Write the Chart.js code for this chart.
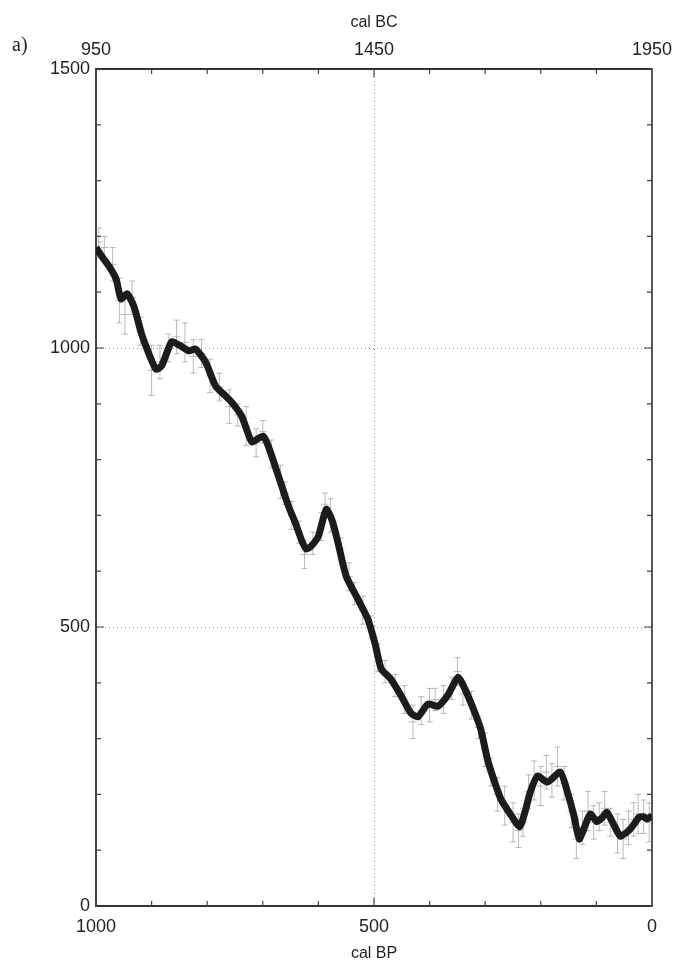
<!DOCTYPE html>
<html>
<head>
<meta charset="utf-8">
<script src="https://cdn.jsdelivr.net/npm/chart.js@4.4.1/dist/chart.umd.min.js"></script>
<style>
  body { margin: 0; background: #fff; }
  #wrap { position: relative; width: 674px; height: 964px; }
  #panel { position: absolute; left: 12px; top: 33px; font: 20px 'Liberation Serif', serif; color: #222; }
</style>
</head>
<body>
<div id="wrap">
  <canvas id="chart"></canvas>
  <div id="panel">a)</div>
</div>
<script>
// calibration curve (cal BP -> 14C age BP)
const curveBP  = [1000,990,977,964,955,944,932,918,905,892,882,864,850,833,821,803,785,767,756,738,720,708,699,690,672,654,642,630,622,613,600,586,575,565,550,529,511,498,487,470,452,434,421,403,385,367,349,337,320,308,296,284,272,255,238,228,219,206,188,165,152,140,131,120,111,99,90,81,70,57,48,39,30,23,15,9,0];
const curveAge = [1180,1165,1147,1124,1088,1097,1075,1025,990,962,968,1011,1005,995,998,975,932,914,903,878,832,838,842,824,771,717,688,655,640,645,663,711,690,652,591,550,514,470,425,407,378,346,339,362,358,378,410,390,350,317,263,225,192,165,142,170,204,233,222,240,204,160,120,145,165,151,158,168,148,125,130,138,150,159,160,156,162];

// individual measurements with 1-sigma errors
const measBP  = [995,985,970,958,948,935,920,900,885,870,855,840,825,810,795,778,760,745,730,712,700,685,668,660,648,635,625,610,595,588,578,560,545,535,520,505,493,480,462,445,430,415,400,390,375,360,350,340,325,312,300,290,278,265,250,240,232,222,212,200,190,180,170,158,145,136,125,115,105,95,85,75,62,52,42,33,25,15,5];
const measAge = [1190,1180,1150,1085,1060,1090,1030,960,975,1000,1020,1010,985,990,950,930,895,880,860,830,850,810,760,740,700,670,630,650,680,720,700,640,590,560,530,500,445,420,395,370,330,350,360,370,370,390,420,380,360,320,280,240,200,180,150,135,150,205,225,215,240,225,250,220,170,120,140,170,150,160,175,150,130,120,140,155,165,160,150];
const measErr = [25,20,30,40,35,30,25,45,30,25,30,35,30,25,30,25,30,20,35,25,20,25,30,20,25,20,25,20,25,20,30,20,25,20,25,20,25,20,20,25,30,25,30,20,25,20,25,20,25,20,30,25,30,35,35,30,25,30,35,35,30,30,35,30,30,35,30,35,30,25,30,25,35,35,30,30,35,30,35];

const bpTicks = [0, 500, 1000];
const bcTicks = [950, 1450, 1950];
const ageTicks = [0, 500, 1000, 1500];

const ink = '#222';
const tickFont = { family: "'Liberation Sans', Arial, sans-serif", size: 18 };
const titleFont = { family: "'Liberation Sans', Arial, sans-serif", size: 16 };

function fixSize(prop, px){
  return s => { s[prop] = px; s.paddingLeft = 0; s.paddingRight = 0; s.paddingTop = 0; s.paddingBottom = 0; };
}

// error bars for the measurements
const errorBars = {
  id: 'errorBars',
  beforeDatasetsDraw(chart){
    const { ctx, chartArea, scales: { x, y } } = chart;
    ctx.save();
    ctx.beginPath();
    ctx.rect(chartArea.left, chartArea.top, chartArea.right - chartArea.left, chartArea.bottom - chartArea.top);
    ctx.clip();
    ctx.strokeStyle = 'rgba(120,120,120,0.5)';
    ctx.lineWidth = 1;
    measBP.forEach((bp, i) => {
      const px = x.getPixelForValue(bp);
      const y0 = y.getPixelForValue(measAge[i] - measErr[i]);
      const y1 = y.getPixelForValue(measAge[i] + measErr[i]);
      const yc = y.getPixelForValue(measAge[i]);
      ctx.beginPath();
      ctx.moveTo(px, y0); ctx.lineTo(px, y1);
      ctx.moveTo(px - 3, y0); ctx.lineTo(px + 3, y0);
      ctx.moveTo(px - 3, y1); ctx.lineTo(px + 3, y1);
      ctx.moveTo(px - 4, yc); ctx.lineTo(px + 4, yc);
      ctx.stroke();
    });
    ctx.restore();
  }
};

// small tick marks pointing into the frame, every 100 units
const innerTicks = {
  id: 'innerTicks',
  afterDraw(chart){
    const { ctx, chartArea: a, scales } = chart;
    ctx.save();
    ctx.strokeStyle = '#444';
    ctx.lineWidth = 1.2;
    ctx.beginPath();
    for (let v = 100; v < 1000; v += 100){
      const px = scales.x.getPixelForValue(v);
      const len = v === 500 ? 8 : 5;
      ctx.moveTo(px, a.bottom); ctx.lineTo(px, a.bottom - len);
      ctx.moveTo(px, a.top); ctx.lineTo(px, a.top + len);
    }
    for (let v = 100; v < 1500; v += 100){
      const py = scales.y.getPixelForValue(v);
      const len = v % 500 === 0 ? 8 : 5;
      ctx.moveTo(a.left, py); ctx.lineTo(a.left + len, py);
      ctx.moveTo(a.right, py); ctx.lineTo(a.right - len, py);
    }
    ctx.stroke();
    ctx.restore();
  }
};

const dotted = { dash: [1, 3] };
const plain = v => String(v);

new Chart(document.getElementById('chart'), {
  type: 'line',
  data: {
    datasets: [{
      label: 'calibration curve',
      data: curveBP.map((bp, i) => ({ x: bp, y: curveAge[i] })),
      borderColor: '#1c1c1c',
      borderWidth: 7,
      pointRadius: 0,
      tension: 0.2,
      xAxisID: 'x',
      yAxisID: 'y'
    }]
  },
  options: {
    responsive: true,
    maintainAspectRatio: false,
    animation: false,
    layout: { padding: 0 },
    plugins: { legend: { display: false }, tooltip: { enabled: false } },
    scales: {
      x: {
        type: 'linear', position: 'bottom', reverse: true, min: 0, max: 1000,
        afterBuildTicks: s => { s.ticks = bpTicks.map(v => ({ value: v })); },
        afterFit: fixSize('height', 58),
        ticks: { font: tickFont, color: ink, padding: 10, maxRotation: 0, autoSkip: false, callback: plain },
        grid: { drawTicks: false, lineWidth: 1, color: c => c.tick && c.tick.value === 500 ? '#8a8a8a' : 'transparent' },
        border: { display: true, color: '#333', width: 2, ...dotted },
        title: { display: true, text: 'cal BP', font: titleFont, color: ink, padding: { top: 0, bottom: 1 } }
      },
      x2: {
        type: 'linear', position: 'top', min: 950, max: 1950,
        afterBuildTicks: s => { s.ticks = bcTicks.map(v => ({ value: v })); },
        afterFit: fixSize('height', 69),
        ticks: { font: tickFont, color: ink, padding: 8, maxRotation: 0, autoSkip: false, callback: plain },
        grid: { display: false, drawTicks: false },
        border: { display: true, color: '#333', width: 2 },
        title: { display: true, text: 'cal BC', font: titleFont, color: ink, padding: { top: 13, bottom: 0 } }
      },
      y: {
        type: 'linear', position: 'left', min: 0, max: 1500,
        afterBuildTicks: s => { s.ticks = ageTicks.map(v => ({ value: v })); },
        afterFit: fixSize('width', 96),
        ticks: { font: tickFont, color: ink, padding: 6, callback: plain },
        grid: { drawTicks: false, lineWidth: 1, color: c => c.tick && (c.tick.value === 500 || c.tick.value === 1000) ? '#8a8a8a' : 'transparent' },
        border: { display: true, color: '#444', width: 2, ...dotted }
      },
      y2: {
        type: 'linear', position: 'right', min: 0, max: 1500,
        afterFit: fixSize('width', 22),
        ticks: { display: false },
        grid: { display: false, drawTicks: false },
        border: { display: true, color: '#555', width: 2 }
      }
    }
  },
  plugins: [errorBars, innerTicks]
});
</script>
</body>
</html>
